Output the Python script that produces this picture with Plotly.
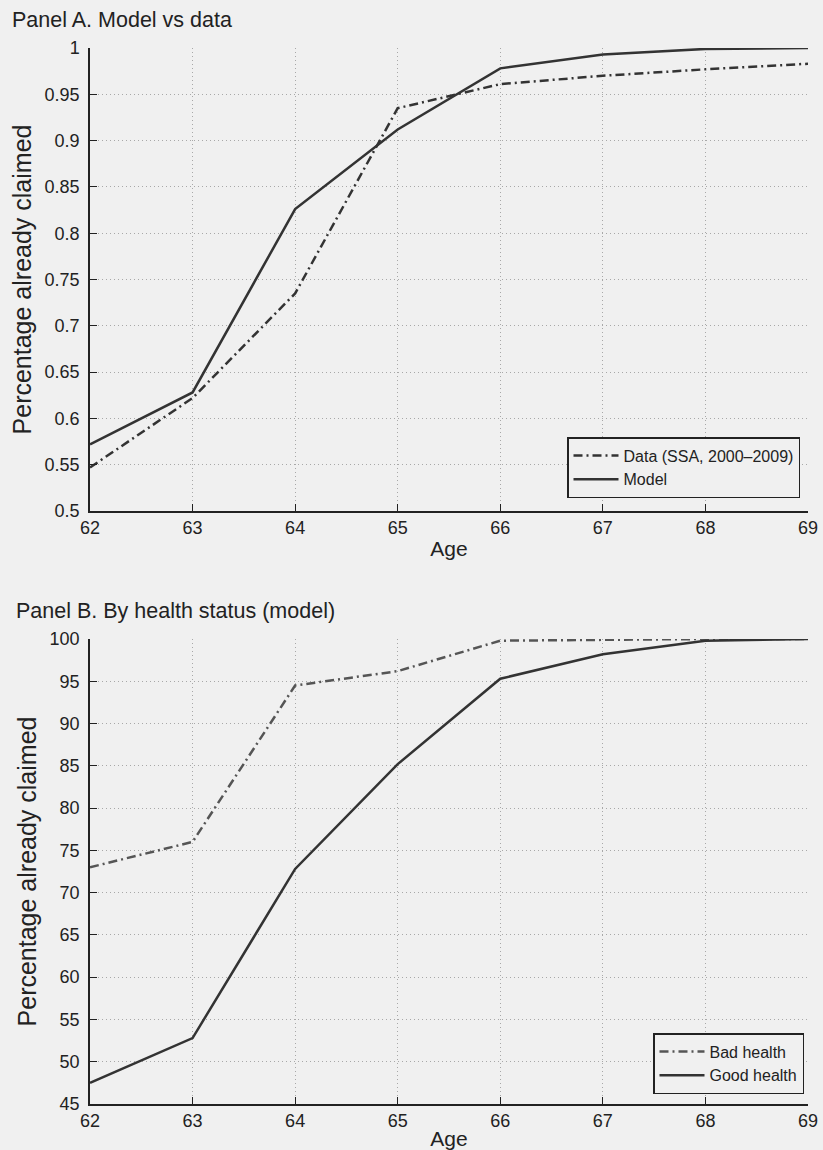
import plotly.graph_objects as go

ages = [62, 63, 64, 65, 66, 67, 68, 69]
data_ssa = [0.547, 0.622, 0.735, 0.935, 0.961, 0.970, 0.977, 0.983]
model = [0.572, 0.628, 0.826, 0.912, 0.978, 0.993, 0.999, 1.0]
bad_health = [73.0, 76.0, 94.5, 96.2, 99.8, 99.9, 100.0, 100.0]
good_health = [47.5, 52.8, 72.8, 85.2, 95.3, 98.2, 99.8, 100.0]

ytick_a = [0.5, 0.55, 0.6, 0.65, 0.7, 0.75, 0.8, 0.85, 0.9, 0.95, 1.0]
ytick_a_text = ["0.5", "0.55", "0.6", "0.65", "0.7", "0.75", "0.8", "0.85", "0.9", "0.95", "1"]
ytick_b = [45, 50, 55, 60, 65, 70, 75, 80, 85, 90, 95, 100]

W, H = 823, 1150
BG = "#f0f0f0"
LINE = "#333333"
FONT = "Liberation Sans, Arial, sans-serif"
DASHDOT = "9px,4px,2px,4px"
GRID = "#a8a8a8"

fig = go.Figure()
fig.add_trace(go.Scatter(x=ages, y=data_ssa, mode="lines", name="Data (SSA, 2000\u20132009)",
                         line=dict(color=LINE, width=2.5, dash=DASHDOT), xaxis="x", yaxis="y", legend="legend"))
fig.add_trace(go.Scatter(x=ages, y=model, mode="lines", name="Model",
                         line=dict(color=LINE, width=2.5), xaxis="x", yaxis="y", legend="legend"))
fig.add_trace(go.Scatter(x=ages, y=bad_health, mode="lines", name="Bad health",
                         line=dict(color="#555555", width=2.5, dash=DASHDOT), xaxis="x2", yaxis="y2", legend="legend2"))
fig.add_trace(go.Scatter(x=ages, y=good_health, mode="lines", name="Good health",
                         line=dict(color=LINE, width=2.5), xaxis="x2", yaxis="y2", legend="legend2"))

xd = [90 / W, 808 / W]
ya = [1 - 511 / H, 1 - 48 / H]
yb = [1 - 1104 / H, 1 - 639 / H]

common_x = dict(range=[62, 69], tickvals=ages, showgrid=True, gridcolor=GRID, griddash="1px,3px",
                gridwidth=1, showline=True, linecolor="#222", linewidth=1.5, ticks="inside",
                ticklen=7, tickcolor="#222", zeroline=False, automargin=False,
                tickfont=dict(size=18, color="#222", family=FONT),
                title=dict(text="Age", font=dict(size=21, color="#222", family=FONT), standoff=4))
common_y = dict(showgrid=True, gridcolor=GRID, griddash="1px,3px", gridwidth=1, showline=True,
                linecolor="#222", linewidth=1.5, ticks="inside", ticklen=7, tickcolor="#222",
                zeroline=False, automargin=False, ticklabelstandoff=5,
                tickfont=dict(size=18, color="#222", family=FONT),
                title=dict(text="Percentage already claimed", font=dict(size=25, color="#222", family=FONT),
                           standoff=6))

fig.update_layout(
    width=W, height=H,
    margin=dict(l=0, r=0, t=0, b=0),
    paper_bgcolor=BG, plot_bgcolor=BG,
    font=dict(family=FONT, color="#222"),
    xaxis=dict(domain=xd, anchor="y", **common_x),
    yaxis=dict(domain=ya, anchor="x", range=[0.5, 1.0], tickvals=ytick_a, ticktext=ytick_a_text, **common_y),
    xaxis2=dict(domain=xd, anchor="y2", **common_x),
    yaxis2=dict(domain=yb, anchor="x2", range=[45, 100], tickvals=ytick_b, **common_y),
    legend=dict(x=800 / W, xanchor="right", y=1 - 437 / H, yanchor="top", bgcolor=BG,
                bordercolor="#222", borderwidth=1.5, font=dict(size=16, family=FONT, color="#222"),
                itemwidth=45, tracegroupgap=0),
    legend2=dict(x=804 / W, xanchor="right", y=1 - 1033 / H, yanchor="top", bgcolor=BG,
                 bordercolor="#222", borderwidth=1.5, font=dict(size=16, family=FONT, color="#222"),
                 itemwidth=45, tracegroupgap=0),
    annotations=[
        dict(text="Panel A. Model vs data", x=10 / W, y=1 - 20 / H, xref="paper", yref="paper",
             xanchor="left", yanchor="middle", showarrow=False, font=dict(size=21.5, family=FONT, color="#222")),
        dict(text="Panel B. By health status (model)", x=14 / W, y=1 - 611 / H, xref="paper", yref="paper",
             xanchor="left", yanchor="middle", showarrow=False, font=dict(size=21.5, family=FONT, color="#222")),
    ],
)

fig.write_html("out.html", config={"displayModeBar": False},
               post_script="document.body.style.margin='0px';document.body.style.padding='0px';")
